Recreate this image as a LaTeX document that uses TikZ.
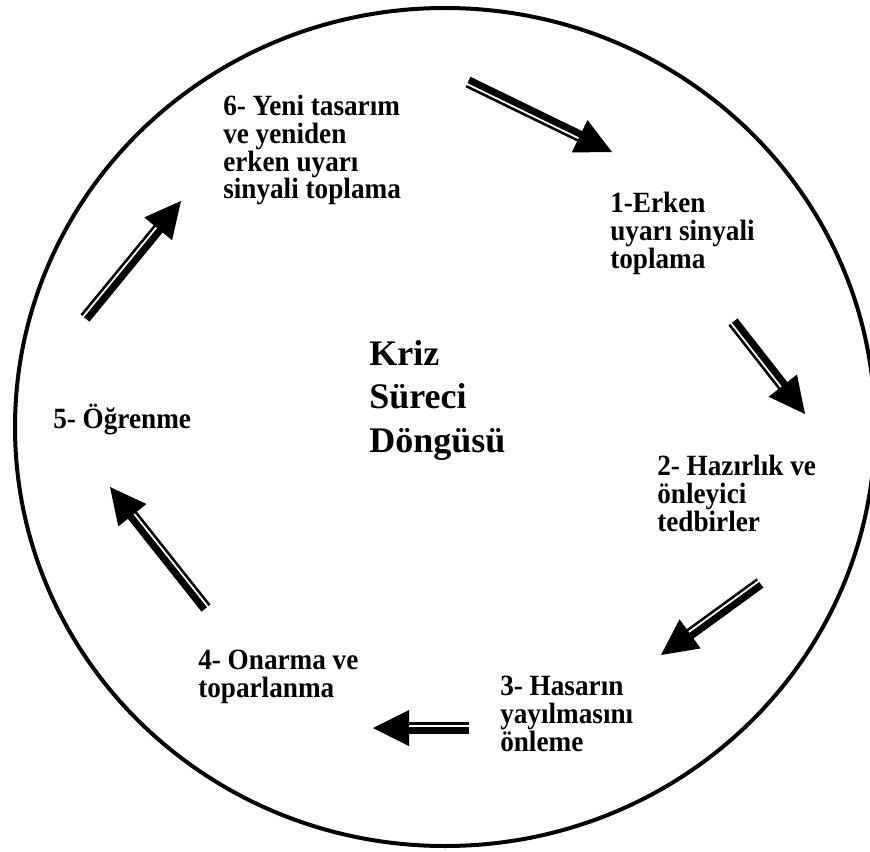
\documentclass[tikz,border=0pt]{standalone}
\usepackage{fontspec}
\setmainfont{Liberation Serif}
\usetikzlibrary{calc}

\tikzset{
  steplabel/.style={font=\bfseries\fontsize{20.4pt}{19.44pt}\selectfont,
    align=left, anchor=base west, inner sep=0pt, yscale=1.08, transform shape},
  titlelabel/.style={font=\bfseries\fontsize{27pt}{32.6pt}\selectfont,
    align=left, anchor=base west, inner sep=0pt},
  ring/.style={line width=3pt},
  shaftthick/.style={line width=5.25pt},
  shaftthin/.style={line width=1.9pt},
}

% striped block arrow: #1 tail, #2 tip, #3 side of the thin stripe
\newcommand\stripedarrow[3]{%
  \coordinate (hb) at ($(#2)!27pt!(#1)$);
  \coordinate (hi) at ($(#2)!25pt!(#1)$);
  \fill ($(hb)!13.5pt!90:(#2)$) -- (#2) -- ($(hb)!13.5pt!-90:(#2)$) -- cycle;
  \draw[shaftthick] ($(#1)!-1.7pt!#3:(#2)$) -- ($(hi)!-1.7pt!#3:(#2)$);
  \draw[shaftthin] ($(#1)!3.4pt!#3:(#2)$) -- ($(hb)!3.4pt!#3:(#2)$);
}

\begin{document}
\begin{tikzpicture}[x=0.75pt, y=-0.75pt]
  \useasboundingbox (0,0) rectangle (870,852);
  \clip (0,0) rectangle (870,852);
  \fill[white] (0,0) rectangle (870,852);

  % cycle outline
  \draw[ring] (445,427) ellipse [x radius=430, y radius=419];

  % centre title (placed by the baseline of its last line)
  \node[titlelabel] (title) at (369,452) {Kriz\\Süreci\\Döngüsü};

  % label positions: left end of the baseline of the last line
  \coordinate (p1) at (610,268);
  \coordinate (p2) at (657,531);
  \coordinate (p3) at (500,751);
  \coordinate (p4) at (198,697);
  \coordinate (p5) at (53,428);
  \coordinate (p6) at (223,199);

  % stages
  \node[steplabel] (s1) at (p1) {1-Erken\\uyarı sinyali\\toplama};
  \node[steplabel] (s2) at (p2) {2- Hazırlık ve\\önleyici\\tedbirler};
  \node[steplabel] (s3) at (p3) {3- Hasarın\\yayılmasını\\önleme};
  \node[steplabel] (s4) at (p4) {4- Onarma ve\\toparlanma};
  \node[steplabel] (s5) at (p5) {5- Öğrenme};
  \node[steplabel] (s6) at (p6) {6- Yeni tasarım\\ve yeniden\\erken uyarı\\sinyali toplama};

  % arrow ends
  \coordinate (a1t) at (468,82);  \coordinate (a1h) at (612,152);
  \coordinate (a2t) at (733,322); \coordinate (a2h) at (805,414);
  \coordinate (a3t) at (760,583); \coordinate (a3h) at (661,655);
  \coordinate (a4t) at (469,728); \coordinate (a4h) at (373,728);
  \coordinate (a5t) at (206,608); \coordinate (a5h) at (110,487);
  \coordinate (a6t) at (85,318);  \coordinate (a6h) at (181,201);

  \stripedarrow{a1t}{a1h}{-90}
  \stripedarrow{a2t}{a2h}{-90}
  \stripedarrow{a3t}{a3h}{-90}
  \stripedarrow{a4t}{a4h}{-90}
  \stripedarrow{a5t}{a5h}{-90}
  \stripedarrow{a6t}{a6h}{90}
\end{tikzpicture}
\end{document}
